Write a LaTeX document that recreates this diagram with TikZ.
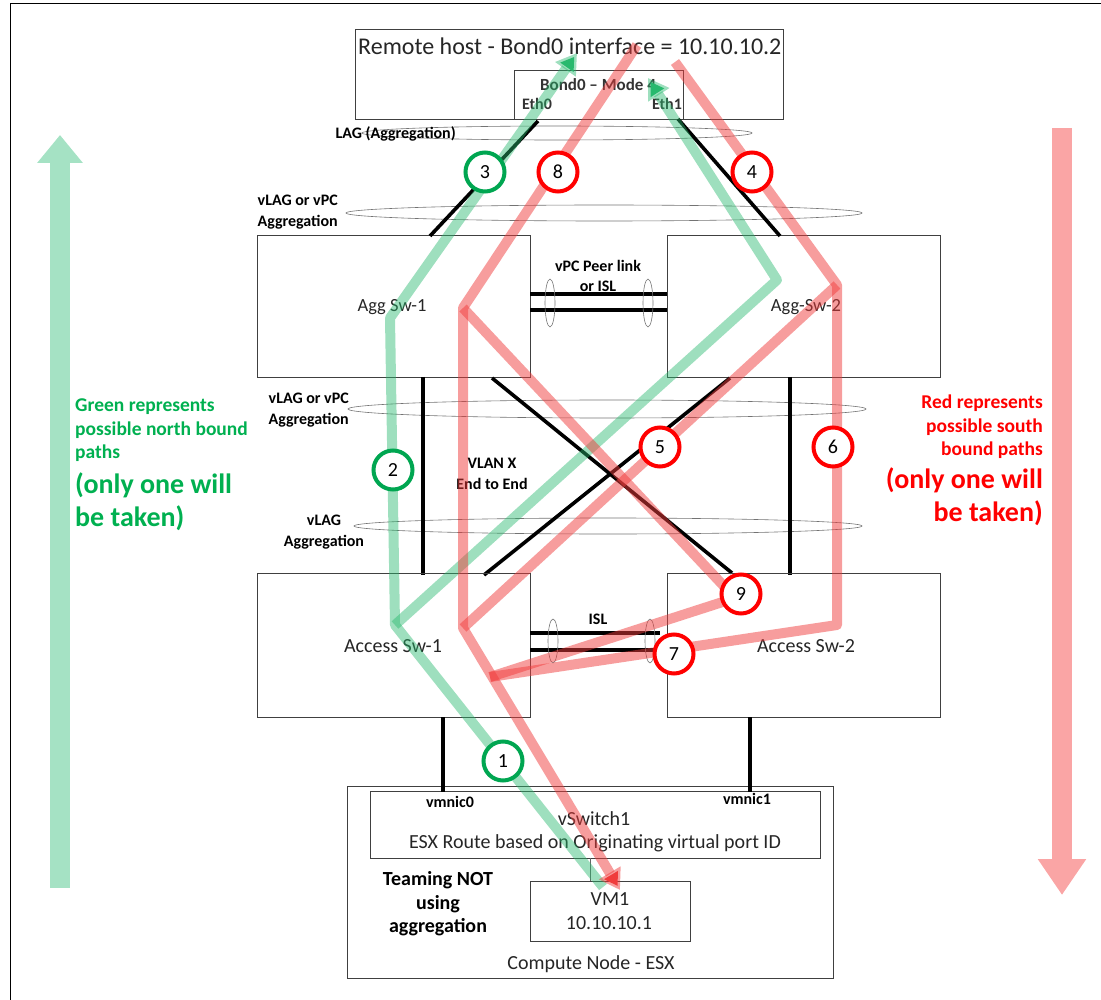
\documentclass[tikz,border=0pt]{standalone}
\usepackage{fontspec}
\setmainfont{Carlito}
\usetikzlibrary{arrows.meta}
\definecolor{pgreen}{RGB}{40,185,110}
\definecolor{pred}{RGB}{240,60,60}
\definecolor{cgreen}{RGB}{0,166,81}
\definecolor{cred}{RGB}{255,0,0}
\definecolor{tgreen}{RGB}{0,176,80}
\definecolor{sgreen}{RGB}{165,226,196}
\definecolor{sred}{RGB}{250,165,165}
\begin{document}
\begin{tikzpicture}[x=1pt,y=-1pt,
  box/.style={draw=black!75, line width=0.7pt},
  lbl/.style={font=\fontsize{20}{24}\selectfont, text=black!85, inner sep=0pt},
  blbl/.style={font=\bfseries\fontsize{16}{20.5}\selectfont, inner sep=0pt, align=center},
  link/.style={line width=3.6pt, black},
  aggel/.style={draw=black!55, line width=0.6pt},
  gpath/.style={draw=pgreen, line width=10pt, draw opacity=0.45, line join=round},
  rpath/.style={draw=pred, line width=10pt, draw opacity=0.5, line join=round},
  numc/.style={circle, fill=white, line width=4pt, minimum size=39pt, inner sep=0pt, font=\fontsize{20}{20}\selectfont},
  gnum/.style={numc, draw=cgreen},
  rnum/.style={numc, draw=cred},
  ahead/.style={-{Triangle[width=24pt,length=20pt]}},
]
\path[use as bounding box] (0,0) rectangle (1101,1000);
\draw[line width=0.8pt] (10,1000) -- (10,3) -- (1101,3);

% side arrows
\coordinate (gs0) at (60,888);
\coordinate (gs1) at (60,135);
\draw[sgreen, line width=20pt, -{Triangle[width=44pt,length=28pt]}] (gs0) -- (gs1);
\coordinate (rs0) at (1062,128);
\coordinate (rs1) at (1062,895);
\draw[sred, line width=20pt, -{Triangle[width=46pt,length=36pt]}] (rs0) -- (rs1);

% side texts
\node[anchor=north west, inner sep=0pt, align=left, text=tgreen, font=\bfseries\fontsize{19.5}{23.5}\selectfont] (gtxt1) at (75,399) {Green represents\\possible north bound\\paths};
\node[anchor=north west, inner sep=0pt, align=left, text=tgreen, font=\bfseries\fontsize{28}{33}\selectfont] (gtxt2) at (75,473) {(only one will\\be taken)};
\node[anchor=north east, inner sep=0pt, align=right, text=cred, font=\bfseries\fontsize{19.5}{23.5}\selectfont] (rtxt1) at (1043,395) {Red represents\\possible south\\bound paths};
\node[anchor=north east, inner sep=0pt, align=right, text=cred, font=\bfseries\fontsize{28}{33}\selectfont] (rtxt2) at (1043,468) {(only one will\\be taken)};

% remote host
\draw[box] (355,29) rectangle (783,119);
\node[anchor=west, inner sep=0pt, font=\fontsize{24}{28}\selectfont, text=black!85] (remote) at (358,46) {Remote host - Bond0 interface = 10.10.10.2};
\draw[box] (514,70) rectangle (683,119);
\node[blbl, text=black!80, font=\bfseries\fontsize{17}{20}\selectfont] (bond) at (598,85) {Bond0 -- Mode 4};
\node[blbl, text=black!80] (eth0) at (537,104) {Eth0};
\node[blbl, text=black!80] (eth1) at (667,104) {Eth1};
\coordinate (e0) at (538,121);
\coordinate (e1) at (678,119);

% LAG ellipse
\draw[aggel] (557,133) ellipse [x radius=195, y radius=7];
\node[blbl, anchor=east] (laglbl) at (456,134) {LAG (Aggregation)};

% vLAG ellipse 1
\draw[aggel] (604,213) ellipse [x radius=258, y radius=8];
\node[blbl, anchor=east, align=right] (vl1) at (338,212) {vLAG or vPC\\Aggregation};

% agg switches
\draw[box] (257,235) rectangle (530,377);
\draw[box] (667,235) rectangle (940,377);
\node[lbl, font=\fontsize{18.5}{22}\selectfont] (agg1) at (392,307) {Agg Sw-1};
\node[lbl, font=\fontsize{18.5}{22}\selectfont] (agg2) at (806,307) {Agg-Sw-2};
\coordinate (a1t) at (430,236);
\coordinate (a2t) at (780,236);
\draw[link] (e0) -- (a1t);
\draw[link] (e1) -- (a2t);

% peer link
\draw[link] (530,294) -- (667,294);
\draw[link] (530,310) -- (667,310);
\draw[aggel] (550,303) ellipse [x radius=5, y radius=24];
\draw[aggel] (648,303) ellipse [x radius=5, y radius=24];
\node[blbl] (peer) at (598,276) {vPC Peer link\\or ISL};

% middle ellipses
\draw[aggel] (607,409) ellipse [x radius=259, y radius=9];
\node[blbl, anchor=east, align=right] (vl2) at (349,410) {vLAG or vPC\\Aggregation};
\draw[aggel] (608,526) ellipse [x radius=254, y radius=8];
\node[blbl] (vl3) at (324,532) {vLAG\\Aggregation};
\node[blbl] (vlanx) at (492,474) {VLAN X\\End to End};

% agg-access links
\draw[link] (423,377) -- (423,575);
\draw[link] (790,377) -- (790,575);
\draw[link] (492,378) -- (732,573);
\draw[link] (730,378) -- (484,575);

% access switches
\draw[box] (257,573) rectangle (530,717);
\draw[box] (667,573) rectangle (940,717);
\node[lbl] (acc1) at (393,646) {Access Sw-1};
\node[lbl] (acc2) at (806,646) {Access Sw-2};
\draw[link] (530,633) -- (660,633);
\draw[link] (530,650) -- (660,650);
\draw[aggel] (553,641) ellipse [x radius=5, y radius=22];
\draw[aggel] (650,641) ellipse [x radius=5, y radius=22];
\node[blbl] (isl) at (598,619) {ISL};

% compute node
\draw[box] (347,786) rectangle (833,978);
\draw[box] (370,791) rectangle (820,858);
\draw[box] (530,881) rectangle (690,941);
\draw[black!60, line width=0.6pt] (590,858) -- (590,881);
\draw[link] (443,717) -- (443,792);
\draw[link] (750,717) -- (750,792);
\node[blbl] (vm0) at (450,802) {vmnic0};
\node[blbl] (vm1n) at (747,799) {vmnic1};
\node[lbl] (vsw) at (594,819) {vSwitch1};
\node[lbl] (esx) at (595,843) {ESX Route based on Originating virtual port ID};
\node[lbl] (vmname) at (610,899) {VM1};
\node[lbl] (vmip) at (609,923) {10.10.10.1};
\node[lbl] (cn) at (591,964) {Compute Node - ESX};
\node[blbl, font=\bfseries\fontsize{20}{23.5}\selectfont] (team) at (438,904) {Teaming NOT\\using\\aggregation};

% green paths
\coordinate (g0) at (603,887);
\coordinate (ga) at (395,625);
\coordinate (gb) at (390,318);
\coordinate (gt1) at (577,53);
\coordinate (gc) at (777,280);
\coordinate (gt2) at (648,78);
\draw[gpath, ahead] (g0) -- (ga) -- (gb) -- (gt1);
\draw[gpath, ahead] (ga) -- (gc) -- (gt2);

% red paths
\coordinate (r0) at (637,45);
\coordinate (ra) at (463,308);
\coordinate (rb) at (463,628);
\coordinate (rt) at (620,890);
\coordinate (r9) at (735,598);
\coordinate (rc) at (490,677);
\coordinate (r1) at (675,62);
\coordinate (rd) at (837,285);
\coordinate (re) at (837,625);
\draw[rpath, ahead] (r0) -- (ra) -- (rb) -- (rt);
\draw[rpath] (ra) -- (r9) -- (rc);
\draw[rpath] (r1) -- (rd) -- (re) -- (rc);
\draw[rpath] (rd) -- (rb);

% numbered circles
\node[gnum] (n1) at (503,761) {1};
\node[gnum] (n2) at (393,470) {2};
\node[gnum] (n3) at (485,172) {3};
\node[rnum] (n4) at (752,172) {4};
\node[rnum] (n5) at (660,447) {5};
\node[rnum] (n6) at (833,447) {6};
\node[rnum] (n7) at (674,654) {7};
\node[rnum] (n8) at (558,172) {8};
\node[rnum] (n9) at (741,594) {9};
\end{tikzpicture}
\end{document}
